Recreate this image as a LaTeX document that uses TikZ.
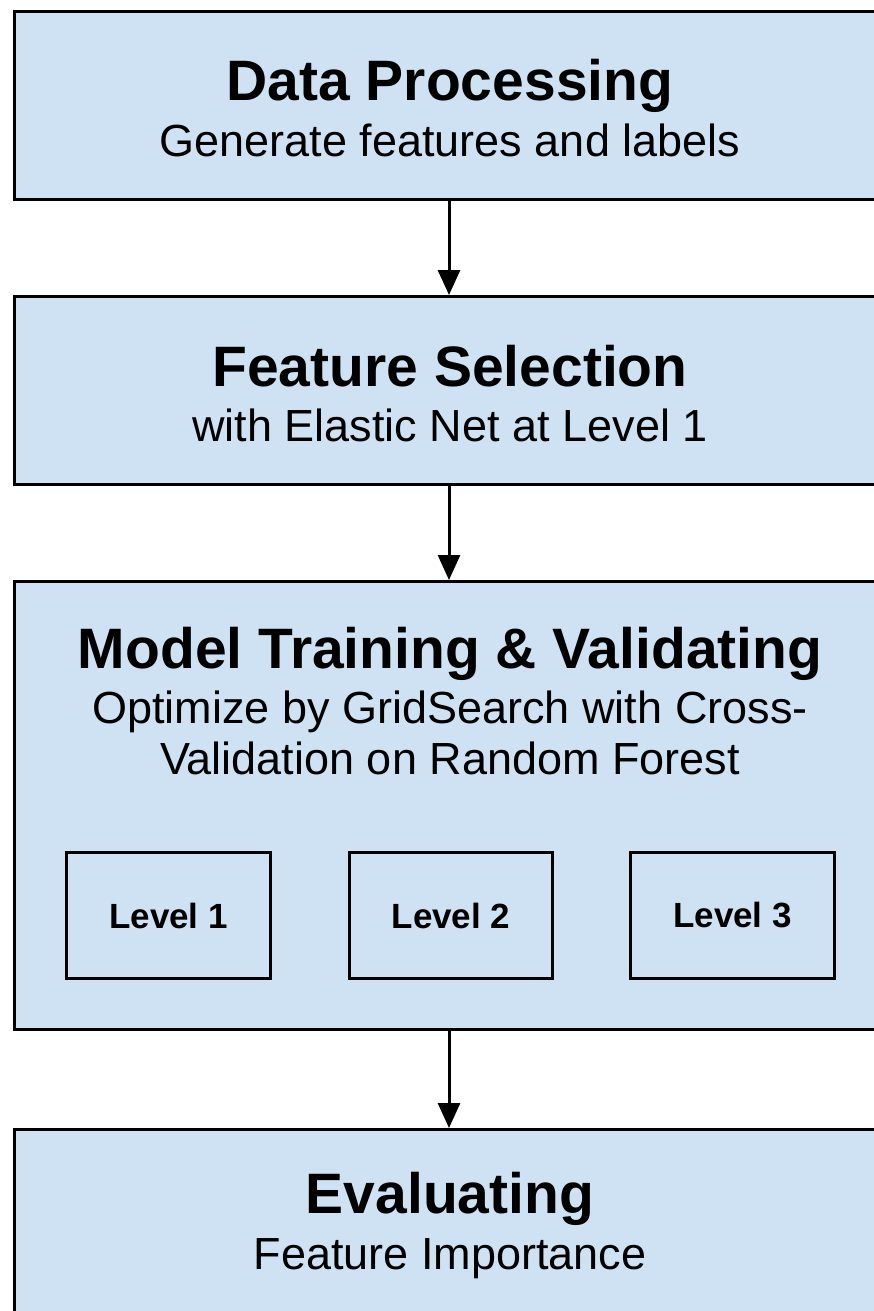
\documentclass[tikz,border=0pt]{standalone}
\usepackage{fontspec}
\setmainfont{Liberation Sans}
\usetikzlibrary{arrows.meta}
\definecolor{panel}{HTML}{CFE2F3}
\begin{document}
\begin{tikzpicture}[x=1pt,y=-1pt,
  stage/.style={draw=black, line width=3pt, fill=panel, rectangle,
    anchor=north west, inner sep=0pt, minimum width=880},
  levelbox/.style={draw=black, line width=3pt, fill=panel, rectangle,
    anchor=north west, inner sep=0pt, minimum width=204, minimum height=126,
    font=\fontsize{35}{40}\selectfont\bfseries},
  title/.style={anchor=base, inner sep=0pt, font=\fontsize{57}{64}\selectfont\bfseries},
  subtitle/.style={anchor=base, inner sep=0pt, font=\fontsize{45}{50}\selectfont},
  flow/.style={line width=3pt, -{Triangle[length=25pt,width=22pt]}}
]
\clip (0,0) rectangle (874,1311);
\fill[white] (0,0) rectangle (874,1311);
\coordinate (axis) at (449,0);

% stage panels
\node[stage, minimum height=188] (dp) at (13,10) {};
\node[stage, minimum height=188] (fs) at (13,295) {};
\node[stage, minimum height=448] (mt) at (13,580) {};
\node[stage, minimum height=260] (ev) at (13,1128) {};

% panel texts
\node[title] (dpT) at (450,101) {Data Processing};
\node[subtitle] (dpS) at (450,156) {Generate features and labels};
\node[title] (fsT) at (450,386) {Feature Selection};
\node[subtitle] (fsS) at (450,441) {with Elastic Net at Level 1};
\node[title] (mtT) at (450,668) {Model Training \& Validating};
\node[subtitle] (mtS1) at (450,723) {Optimize by GridSearch with Cross-};
\node[subtitle] (mtS2) at (450,774) {Validation on Random Forest};
\node[title] (evT) at (450,1213) {Evaluating};
\node[subtitle] (evS) at (450,1269) {Feature Importance};

% levels inside the training panel
\node[levelbox] (l1) at (65,851) {Level 1};
\node[levelbox, minimum width=203] (l2) at (348,851) {Level 2};
\node[levelbox] (l3) at (629,851) {Level 3};

% connectors
\draw[flow] (dp.south -| axis) -- (fs.north -| axis);
\draw[flow] (fs.south -| axis) -- (mt.north -| axis);
\draw[flow] (mt.south -| axis) -- (ev.north -| axis);
\end{tikzpicture}
\end{document}
